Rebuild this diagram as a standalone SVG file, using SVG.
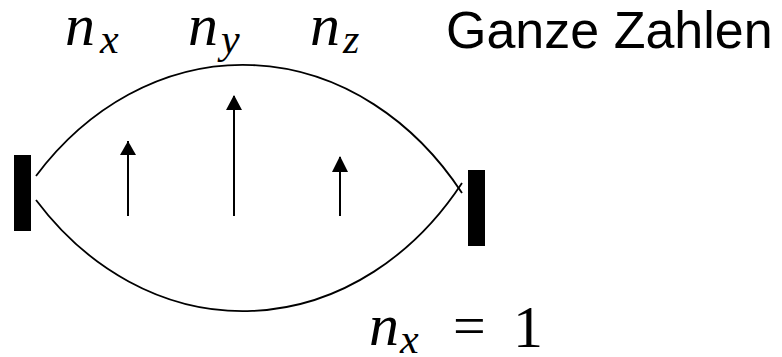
<svg xmlns="http://www.w3.org/2000/svg" width="782" height="357" viewBox="0 0 782 357">
<style>
.m{font-family:"Liberation Serif","Times New Roman",serif;font-style:italic;fill:#000}
.u{font-family:"Liberation Serif","Times New Roman",serif;fill:#000}
.s{font-family:"Liberation Sans",Arial,sans-serif;fill:#000}
.wave{fill:none;stroke:#000;stroke-width:1.8}
.arr{stroke:#000;stroke-width:2}
</style>
<rect width="782" height="357" fill="#fff"/>
<g id="walls">
<rect x="14" y="155" width="17" height="76" fill="#000"/>
<rect x="468" y="170" width="17" height="76" fill="#000"/>
</g>
<g id="waves">
<path class="wave" d="M36,176 A280,340 0 0 1 462,193"/>
<path class="wave" d="M36,200 A280,340 0 0 0 462,183"/>
</g>
<g id="connectors">
<path d="M128,216 V141" class="arr"/>
<path d="M120,155 L128,141 L136,155 Z" fill="#000"/>
<path d="M234,216 V96" class="arr"/>
<path d="M226,110 L234,95 L242,110 Z" fill="#000"/>
<path d="M340,216 V157" class="arr"/>
<path d="M332,172 L340,156 L348,172 Z" fill="#000"/>
</g>
<g id="labels">
<text class="m" x="65" y="45" font-size="60">n</text><text class="m" x="100" y="53" font-size="42">x</text>
<text class="m" x="188" y="45" font-size="60">n</text><text class="m" x="221" y="53" font-size="42">y</text>
<text class="m" x="310" y="45" font-size="60">n</text><text class="m" x="343" y="53" font-size="42">z</text>
<text class="s" x="446" y="48" font-size="52">Ganze Zahlen</text>
<text class="m" x="369" y="345" font-size="60">n</text><text class="m" x="400" y="353" font-size="42">x</text>
<text class="u" x="453" y="345" font-size="58">=</text>
<text class="u" x="513" y="347" font-size="60">1</text>
</g>
</svg>
